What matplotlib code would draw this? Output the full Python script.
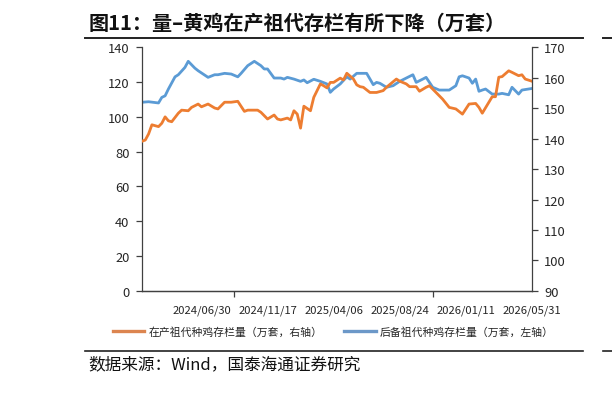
#!/usr/bin/env python3

import matplotlib
matplotlib.use("Agg")
import matplotlib.pyplot as plt
import matplotlib.dates as mdates
from matplotlib.lines import Line2D
import pandas as pd

plt.rcParams["font.family"] = ["Noto Sans CJK SC", "DejaVu Sans"]

TITLE = "图11：量–黄鸡在产祖代存栏有所下降（万套）"
SOURCE = "数据来源：Wind，国泰海通证券研究"
ORANGE_LABEL = "在产祖代种鸡存栏量（万套，右轴）"
BLUE_LABEL = "后备祖代种鸡存栏量（万套，左轴）"

# x axis: labelled dates and tick-mark dates
label_dates = ["2024-06-30", "2024-11-17", "2025-04-06",
               "2025-08-24", "2026-01-11", "2026-05-31"]
mark_dates = ["2024-09-08", "2025-04-06", "2025-11-02", "2026-05-31"]
x_start, x_end = "2024-02-25", "2026-05-31"

# 后备祖代 (left axis)
blue_dates = [
    "2024-02-25", "2024-03-10", "2024-03-31", "2024-04-07", "2024-04-14",
    "2024-04-21", "2024-05-05", "2024-05-12", "2024-05-26", "2024-06-02",
    "2024-06-16", "2024-06-23", "2024-07-14", "2024-07-28", "2024-08-04",
    "2024-08-18", "2024-09-01", "2024-09-15", "2024-09-22", "2024-10-06",
    "2024-10-20", "2024-11-03", "2024-11-10", "2024-11-17", "2024-12-01",
    "2024-12-15", "2024-12-22", "2024-12-29", "2025-01-12", "2025-01-26",
    "2025-02-02", "2025-02-09", "2025-02-23", "2025-03-09", "2025-03-23",
    "2025-03-30", "2025-04-06", "2025-04-20", "2025-05-04", "2025-05-11",
    "2025-05-25", "2025-06-15", "2025-06-29", "2025-07-06", "2025-07-13",
    "2025-07-27", "2025-08-10", "2025-08-24", "2025-09-07", "2025-09-21",
    "2025-09-28", "2025-10-12", "2025-10-19", "2025-11-02", "2025-11-16",
    "2025-12-07", "2025-12-21", "2025-12-28", "2026-01-04", "2026-01-18",
    "2026-01-25", "2026-02-01", "2026-02-08", "2026-02-15", "2026-02-22",
    "2026-03-08", "2026-03-22", "2026-03-29", "2026-04-12", "2026-04-19",
    "2026-05-03", "2026-05-10", "2026-05-24", "2026-05-31",
]
blue_vals = [
    108.3, 108.6, 107.9, 111.1, 112.0, 115.9, 122.9, 124.1, 128.3, 131.8,
    127.9, 126.4, 122.6, 124.1, 124.1, 124.9, 124.5, 122.9, 124.9, 129.3,
    131.8, 129.3, 127.4, 127.4, 122.2, 122.2, 121.6, 122.6, 121.6, 120.3,
    121.1, 119.5, 121.5, 120.3, 118.8, 114.0, 115.9, 118.8, 122.9, 121.6,
    124.9, 124.9, 118.4, 119.7, 119.2, 116.9, 117.8, 120.3, 122.2, 124.1,
    119.7, 121.6, 122.6, 116.9, 115.3, 115.3, 117.8, 122.9, 123.5, 122.2,
    119.2, 121.6, 114.6, 115.3, 115.9, 113.0, 113.0, 113.4, 112.6, 116.9,
    113.0, 115.3, 115.9, 116.2,
]

# 在产祖代 (right axis)
orange_dates = [
    "2024-02-25", "2024-03-03", "2024-03-10", "2024-03-17", "2024-03-31",
    "2024-04-07", "2024-04-14", "2024-04-21", "2024-04-28", "2024-05-12",
    "2024-05-19", "2024-06-02", "2024-06-09", "2024-06-23", "2024-06-30",
    "2024-07-14", "2024-07-28", "2024-08-04", "2024-08-18", "2024-09-01",
    "2024-09-15", "2024-09-29", "2024-10-06", "2024-10-27", "2024-11-03",
    "2024-11-17", "2024-12-01", "2024-12-08", "2024-12-15", "2024-12-29",
    "2025-01-05", "2025-01-12", "2025-01-19", "2025-01-26", "2025-02-02",
    "2025-02-16", "2025-02-23", "2025-03-09", "2025-03-16", "2025-03-23",
    "2025-03-30", "2025-04-06", "2025-04-20", "2025-04-27", "2025-05-04",
    "2025-05-18", "2025-05-25", "2025-06-01", "2025-06-08", "2025-06-22",
    "2025-07-06", "2025-07-20", "2025-07-27", "2025-08-17", "2025-08-24",
    "2025-09-07", "2025-09-14", "2025-09-28", "2025-10-05", "2025-10-19",
    "2025-10-26", "2025-11-09", "2025-11-23", "2025-12-07", "2025-12-21",
    "2026-01-04", "2026-01-18", "2026-02-01", "2026-02-08", "2026-02-15",
    "2026-03-01", "2026-03-08", "2026-03-15", "2026-03-22", "2026-03-29",
    "2026-04-12", "2026-04-19", "2026-05-03", "2026-05-10", "2026-05-17",
    "2026-05-31",
]
orange_vals = [
    139.1, 139.5, 141.5, 144.5, 143.9, 145.0, 147.1, 145.8, 145.5, 148.3,
    149.3, 149.1, 150.2, 151.3, 150.4, 151.3, 150.0, 149.7, 151.9, 151.9,
    152.2, 148.9, 149.3, 149.3, 148.6, 146.4, 147.7, 146.4, 146.1, 146.7,
    146.1, 149.1, 148.0, 143.4, 150.6, 149.1, 153.5, 157.9, 157.3, 156.6,
    158.4, 158.4, 159.8, 159.2, 161.4, 159.5, 157.6, 157.0, 156.8, 155.1,
    155.1, 155.7, 156.8, 159.5, 158.8, 157.9, 157.0, 157.0, 155.5, 156.8,
    157.3, 155.1, 152.9, 150.2, 149.7, 148.0, 151.3, 151.5, 150.2, 148.3,
    151.9, 153.7, 153.7, 160.1, 160.3, 162.2, 161.7, 160.6, 160.9, 159.5,
    158.8,
]

left_ticks = [0, 20, 40, 60, 80, 100, 120, 140]
right_ticks = [90, 100, 110, 120, 130, 140, 150, 160, 170]

BLUE = "#5B9BD5"
ORANGE = "#ED7D31"
AXIS = "#404040"


def main():
    fig = plt.figure(figsize=(6.12, 4.14), dpi=100)
    ax1 = fig.add_axes([0.232, 0.2947, 0.637, 0.5893])
    ax2 = ax1.twinx()

    bd = pd.to_datetime(blue_dates)
    od = pd.to_datetime(orange_dates)
    ax1.plot(bd, blue_vals, color=BLUE, lw=2.0, solid_joinstyle="round")
    ax2.plot(od, orange_vals, color=ORANGE, lw=2.0, solid_joinstyle="round")

    ax1.set_ylim(0, 140)
    ax2.set_ylim(90, 170)
    ax1.set_yticks(left_ticks)
    ax2.set_yticks(right_ticks)
    ax1.set_xlim(pd.Timestamp(x_start), pd.Timestamp(x_end))

    # labels without marks, marks without labels
    ax1.set_xticks(pd.to_datetime(label_dates))
    ax1.xaxis.set_major_formatter(mdates.DateFormatter("%Y/%m/%d"))
    ax1.set_xticks(pd.to_datetime(mark_dates), minor=True)
    ax1.tick_params(axis="x", which="major", length=0, pad=9.5,
                    labelsize=8.1, colors="#262626")
    ax1.tick_params(axis="x", which="minor", length=4, width=0.9, color=AXIS)
    ax1.tick_params(axis="y", length=4, width=0.9, color=AXIS, pad=5,
                    labelsize=9.3, labelcolor="#262626")
    ax2.tick_params(axis="y", length=4, width=0.9, color=AXIS, pad=5,
                    labelsize=9.3, labelcolor="#262626")

    for ax in (ax1, ax2):
        ax.spines["top"].set_visible(False)
        for side in ("left", "right", "bottom"):
            ax.spines[side].set_color(AXIS)
            ax.spines[side].set_linewidth(0.9)
    ax1.spines["right"].set_visible(False)
    ax2.spines["left"].set_visible(False)

    handles = [Line2D([], [], color="#DC8550", lw=2.4),
               Line2D([], [], color="#6C98C8", lw=2.4)]
    fig.legend(handles, [ORANGE_LABEL, BLUE_LABEL], loc="center",
               bbox_to_anchor=(0.545, 0.196), ncol=2, frameon=False,
               fontsize=7.8, handlelength=2.9, handletextpad=0.4,
               columnspacing=2.0, labelcolor="#262626")

    # title, rules and source
    fig.text(0.144, 0.944, TITLE, fontsize=14.5, fontweight="bold",
             va="center", ha="left", color="#111111")
    fig.add_artist(Line2D([0.139, 0.953], [0.906, 0.906], color="#222222",
                          lw=1.4, transform=fig.transFigure))
    fig.add_artist(Line2D([0.139, 0.953], [0.15, 0.15], color="#222222",
                          lw=1.2, transform=fig.transFigure))
    fig.text(0.144, 0.118, SOURCE, fontsize=12, va="center", ha="left",
             color="#111111")

    # edge of the neighbouring chart
    fig.add_artist(Line2D([0.985, 1.0], [0.906, 0.906], color="#222222",
                          lw=1.4, transform=fig.transFigure))
    fig.add_artist(Line2D([0.985, 1.0], [0.15, 0.15], color="#222222",
                          lw=1.2, transform=fig.transFigure))

    fig.savefig("out.png", dpi=100)


if __name__ == "__main__":
    main()
